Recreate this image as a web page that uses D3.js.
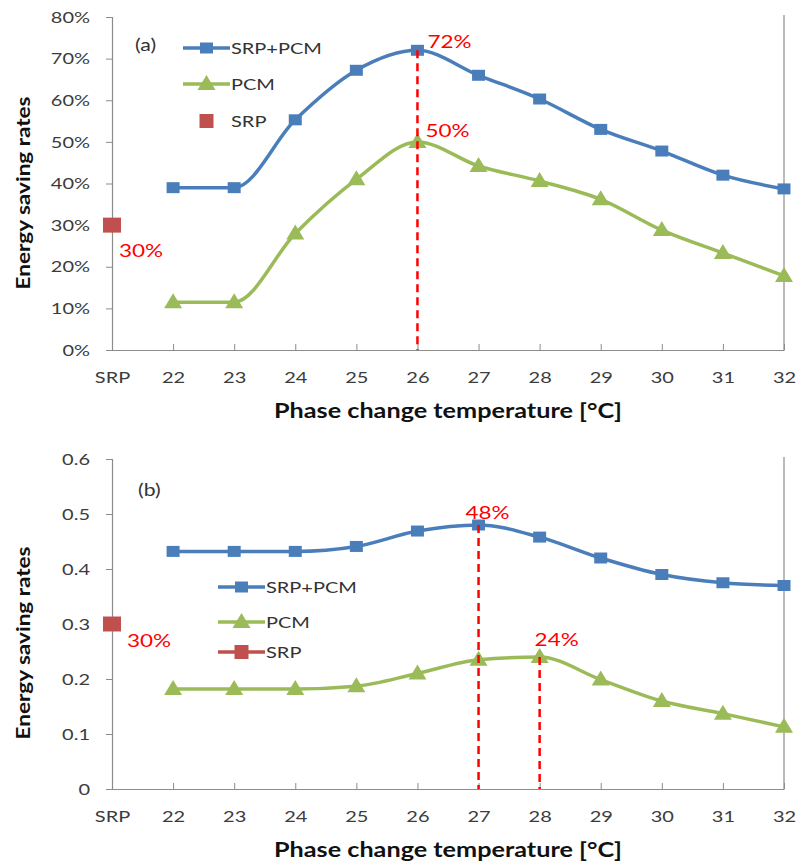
<!DOCTYPE html>
<html>
<head>
<meta charset="utf-8">
<script src="https://cdn.jsdelivr.net/npm/d3@7"></script>
<style>
  body { margin: 0; background: #fff; }
  svg { display: block; }
  text { font-family: Lato, "Open Sans", sans-serif; }
</style>
</head>
<body>
<svg id="chart" width="798" height="865"></svg>
<script>
// x categories: the SRP-only case followed by phase change temperatures (°C)
const categories = ["SRP", "22", "23", "24", "25", "26", "27", "28", "29", "30", "31", "32"];
const temperatures = categories.slice(1);
const seriesNames = ["SRP+PCM", "PCM", "SRP"];

// Panel (a): energy saving rates
const aCombined = [0.39, 0.39, 0.553, 0.672, 0.72, 0.66, 0.603, 0.53, 0.478, 0.42, 0.387];
const aPCM      = [0.115, 0.115, 0.28, 0.41, 0.50, 0.442, 0.406, 0.362, 0.288, 0.233, 0.178];
const aSRP      = 0.30;
const aTicks    = [0, 0.1, 0.2, 0.3, 0.4, 0.5, 0.6, 0.7, 0.8];

// Panel (b): energy saving rates
const bCombined = [0.432, 0.432, 0.432, 0.441, 0.469, 0.48, 0.458, 0.42, 0.39, 0.375, 0.37];
const bPCM      = [0.182, 0.182, 0.182, 0.187, 0.21, 0.235, 0.24, 0.199, 0.16, 0.137, 0.113];
const bSRP      = 0.30;
const bTicks    = [0, 0.1, 0.2, 0.3, 0.4, 0.5, 0.6];

const COLORS = { combined: "#4a7ebb", pcm: "#9bbb59", srp: "#c0504d", axis: "#8c8c8c", note: "#ff0000" };
const STRETCH = 1.25;   // horizontal text widening

const svg = d3.select("#chart");
const pct = d3.format(".0%");

function widen(sel, k) {
  sel.each(function () {
    const L = this.getComputedTextLength();
    this.setAttribute("textLength", (L * k).toFixed(1));
    this.setAttribute("lengthAdjust", "spacingAndGlyphs");
  });
}
function fitWidth(sel, w) {
  sel.attr("textLength", w).attr("lengthAdjust", "spacingAndGlyphs");
}

const x = d3.scalePoint().domain(categories).range([112, 784]).padding(0);

function squarePath(w, h) { return `M${-w/2},${-h/2}h${w}v${h}h${-w}Z`; }
function trianglePath(w, h) { return `M0,${-h*0.6}L${w/2},${h*0.4}L${-w/2},${h*0.4}Z`; }

function drawPanel(cfg) {
  const g = svg.append("g");
  const y = d3.scaleLinear().domain(cfg.domain).range(cfg.range);
  const y0 = y(0), yTop = cfg.range[1];

  // right-hand frame line
  g.append("line").attr("x1", 784).attr("x2", 784).attr("y1", yTop - 2).attr("y2", y0)
    .attr("stroke", COLORS.axis).attr("stroke-width", 1.2);

  // y axis
  const yAxis = g.append("g").attr("transform", "translate(112,0)")
    .call(d3.axisLeft(y).tickValues(cfg.ticks).tickFormat(cfg.tickFormat).tickSizeOuter(0).tickSize(6).tickPadding(16));
  yAxis.select(".domain").attr("stroke", COLORS.axis).attr("stroke-width", 1.2);
  yAxis.selectAll(".tick line").attr("stroke", COLORS.axis);
  yAxis.selectAll(".tick text").attr("font-size", 16).attr("fill", "#3c3c3c").attr("font-family", "Lato");
  widen(yAxis.selectAll(".tick text"), STRETCH);

  // x axis with inward ticks
  const xAxis = g.append("g").attr("transform", `translate(0,${y0})`)
    .call(d3.axisBottom(x).tickSizeOuter(0).tickSizeInner(-6));
  xAxis.select(".domain").attr("stroke", COLORS.axis).attr("stroke-width", 1.2);
  xAxis.selectAll(".tick line").attr("stroke", COLORS.axis);
  xAxis.selectAll(".tick").filter(d => d === "SRP").select("line").remove();
  xAxis.selectAll(".tick text").attr("y", 33).attr("dy", 0).attr("font-size", 16)
    .attr("fill", "#3c3c3c").attr("font-family", "Lato");
  widen(xAxis.selectAll(".tick text"), STRETCH);

  // axis titles
  const xt = g.append("text").attr("x", 448).attr("y", y0 + cfg.xTitleDy).attr("text-anchor", "middle")
    .attr("font-size", 20).attr("font-weight", "bold").attr("fill", "#111")
    .text("Phase change temperature [°C]");
  fitWidth(xt, 348);
  const yt = g.append("text").attr("transform", `translate(30,${cfg.yTitleY}) rotate(-90)`)
    .attr("text-anchor", "middle").attr("font-size", 19).attr("font-weight", "bold").attr("fill", "#111")
    .text("Energy saving rates");
  fitWidth(yt, 193);

  // panel tag
  const tag = g.append("text").attr("x", cfg.tag.x).attr("y", cfg.tag.y).attr("font-size", 17)
    .attr("fill", "#333").text(cfg.tag.text);
  widen(tag, STRETCH);

  // series
  const line = d3.line().x((d, i) => x(temperatures[i])).y(d => y(d)).curve(d3.curveMonotoneX);
  g.append("path").datum(cfg.combined).attr("d", line).attr("fill", "none")
    .attr("stroke", COLORS.combined).attr("stroke-width", 3.5);
  g.append("path").datum(cfg.pcm).attr("d", line).attr("fill", "none")
    .attr("stroke", COLORS.pcm).attr("stroke-width", 3.5);

  g.selectAll(".mk-c").data(cfg.combined).join("path").attr("class", "mk-c")
    .attr("transform", (d, i) => `translate(${x(temperatures[i])},${y(d)})`)
    .attr("d", squarePath(13, 11)).attr("fill", COLORS.combined);
  g.selectAll(".mk-p").data(cfg.pcm).join("path").attr("class", "mk-p")
    .attr("transform", (d, i) => `translate(${x(temperatures[i])},${y(d)})`)
    .attr("d", trianglePath(18, 15)).attr("fill", COLORS.pcm);
  g.append("path").attr("transform", `translate(${x("SRP")},${y(cfg.srp)})`)
    .attr("d", squarePath(18, 15)).attr("fill", COLORS.srp);

  // dashed guides from the highlighted points down to the axis
  cfg.notes.forEach(n => {
    const v = n.series[temperatures.indexOf(n.cat)];
    if (n.guide) {
      g.append("line").attr("x1", x(n.cat)).attr("x2", x(n.cat)).attr("y1", y(v)).attr("y2", y0)
        .attr("stroke", COLORS.note).attr("stroke-width", 2.5).attr("stroke-dasharray", "8,5");
    }
    const t = g.append("text").attr("x", x(n.cat) + n.dx).attr("y", y(v) + n.dy)
      .attr("font-size", 18).attr("fill", COLORS.note).text(pct(v));
    widen(t, STRETCH);
  });
  const st = g.append("text").attr("x", x("SRP") + cfg.srpNote.dx).attr("y", y(cfg.srp) + cfg.srpNote.dy)
    .attr("font-size", 18).attr("fill", COLORS.note).text(pct(cfg.srp));
  widen(st, STRETCH);

  // legend
  const L = cfg.legend;
  const kinds = [
    { name: seriesNames[0], color: COLORS.combined, shape: squarePath(13, 11), line: true },
    { name: seriesNames[1], color: COLORS.pcm, shape: trianglePath(18, 15), line: true },
    { name: seriesNames[2], color: COLORS.srp, shape: squarePath(14, 14), line: L.srpLine }
  ];
  kinds.forEach((k, i) => {
    const ly = L.ys[i];
    if (k.line) {
      g.append("line").attr("x1", L.x0).attr("x2", L.x1).attr("y1", ly).attr("y2", ly)
        .attr("stroke", k.color).attr("stroke-width", 3.5);
    }
    g.append("path").attr("transform", `translate(${(L.x0 + L.x1) / 2},${ly})`).attr("d", k.shape).attr("fill", k.color);
    const t = g.append("text").attr("x", L.tx).attr("y", ly).attr("dy", "0.36em")
      .attr("font-size", 16).attr("fill", "#333").text(k.name);
    widen(t, STRETCH);
  });
}

drawPanel({
  domain: [0, 0.8], range: [350, 17], ticks: aTicks, tickFormat: pct,
  combined: aCombined, pcm: aPCM, srp: aSRP,
  xTitleDy: 68, yTitleY: 193,
  tag: { x: 135, y: 51, text: "(a)" },
  notes: [
    { series: aCombined, cat: "26", dx: 10, dy: -2, guide: true },
    { series: aPCM, cat: "26", dx: 8, dy: -5, guide: false }
  ],
  srpNote: { dx: 7, dy: 32 },
  legend: { x0: 183, x1: 230, tx: 231, ys: [48, 84, 121], srpLine: false }
});

drawPanel({
  domain: [0, 0.6], range: [789, 459], ticks: bTicks, tickFormat: d3.format("~g"),
  combined: bCombined, pcm: bPCM, srp: bSRP,
  xTitleDy: 68, yTitleY: 643,
  tag: { x: 138, y: 496, text: "(b)" },
  notes: [
    { series: bCombined, cat: "27", dx: -13, dy: -6, guide: true },
    { series: bPCM, cat: "28", dx: -5, dy: -11, guide: true }
  ],
  srpNote: { dx: 15, dy: 23 },
  legend: { x0: 218, x1: 265, tx: 266, ys: [587, 622, 652], srpLine: true }
});
</script>
</body>
</html>
